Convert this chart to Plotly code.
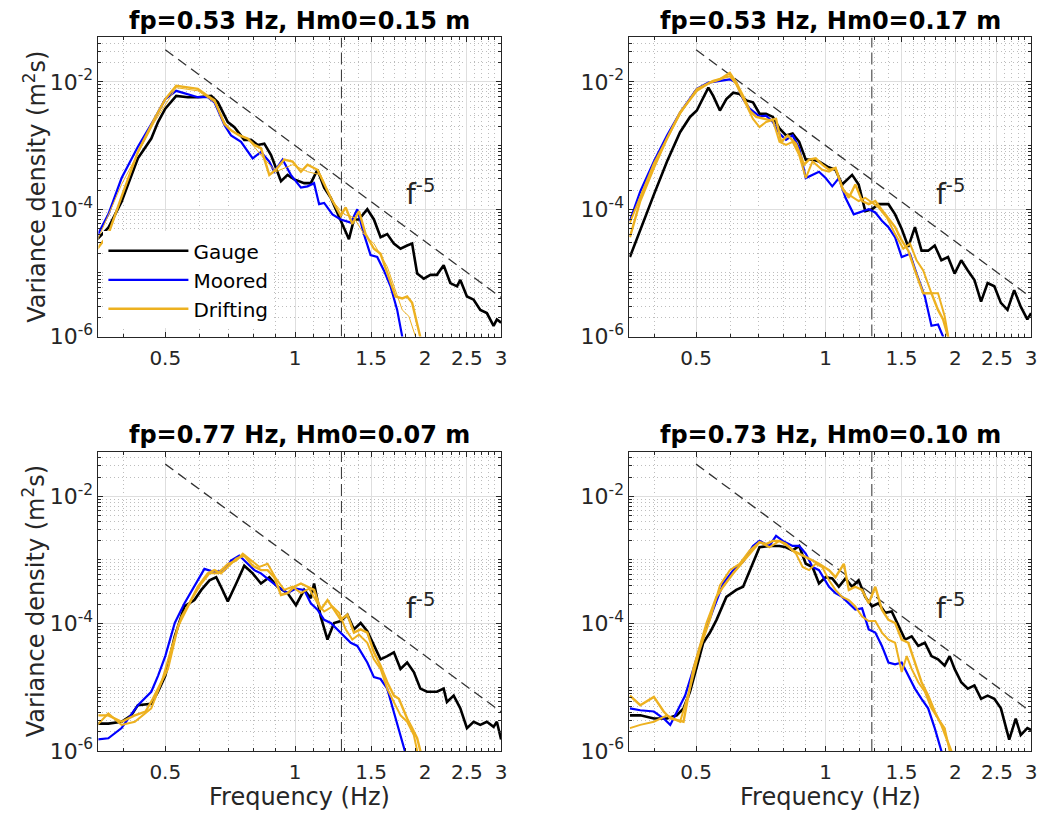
import numpy as np
import plotly.graph_objects as go

# ---------------- data (frequency in Hz, log10 of variance density in m^2 s) ----------------
titles = ["fp=0.53 Hz, Hm0=0.15 m", "fp=0.53 Hz, Hm0=0.17 m",
          "fp=0.77 Hz, Hm0=0.07 m", "fp=0.73 Hz, Hm0=0.10 m"]

# Panel 1
p1_gauge_f = [0.348,0.369,0.396,0.432,0.464,0.481,0.5,0.530,0.564,0.595,0.639,0.662,0.698,0.723,0.762,0.790,0.819,0.848,0.879,0.927,0.960,0.995,1.049,1.087,1.126,1.167,1.209,1.252,1.298,1.332,1.368,1.405,1.469,1.522,1.577,1.634,1.693,1.754,1.817,1.866,1.917,1.986,2.058,2.13,2.208,2.288,2.371,2.413,2.5,2.591,2.685,2.78,2.882,2.933,3.0]
p1_gauge_logS = [-4.47,-4.29,-3.88,-3.20,-2.89,-2.63,-2.42,-2.22,-2.24,-2.24,-2.22,-2.32,-2.63,-2.71,-2.91,-2.91,-2.99,-2.97,-3.15,-3.56,-3.46,-3.53,-3.59,-3.59,-3.38,-3.66,-3.82,-4.05,-4.28,-4.47,-4.16,-4.16,-4.00,-4.16,-4.44,-4.39,-4.54,-4.62,-4.57,-4.54,-5.01,-5.09,-5.03,-5.03,-4.88,-5.16,-5.21,-5.11,-5.37,-5.42,-5.58,-5.63,-5.83,-5.73,-5.78]
p1_moored_f = [0.348,0.369,0.396,0.432,0.472,0.5,0.530,0.564,0.595,0.627,0.650,0.686,0.710,0.749,0.797,0.833,0.871,0.894,0.935,0.977,1.031,1.068,1.106,1.136,1.167,1.220,1.275,1.345,1.393,1.443,1.495,1.549,1.605,1.663,1.723,1.770,1.80]
p1_moored_logS = [-4.41,-4.08,-3.51,-3.02,-2.58,-2.27,-2.14,-2.19,-2.24,-2.24,-2.32,-2.68,-2.84,-2.94,-3.20,-3.10,-3.25,-3.41,-3.22,-3.46,-3.66,-3.64,-3.59,-3.92,-3.90,-4.08,-4.16,-4.21,-4.00,-4.39,-4.72,-4.75,-4.96,-5.21,-5.58,-6.0,-6.3]
p1_drift1_f = [0.348,0.369,0.396,0.432,0.472,0.5,0.530,0.564,0.595,0.627,0.650,0.686,0.710,0.742,0.776,0.804,0.833,0.871,0.902,0.943,0.986,1.031,1.068,1.126,1.167,1.209,1.275,1.309,1.356,1.405,1.456,1.522,1.577,1.634,1.708,1.770,1.817,1.866,1.95,1.98]
p1_drift1_logS = [-4.62,-4.39,-3.80,-3.10,-2.58,-2.27,-2.06,-2.09,-2.11,-2.22,-2.29,-2.66,-2.76,-2.84,-2.89,-2.99,-3.04,-3.46,-3.38,-3.22,-3.25,-3.41,-3.30,-3.38,-3.61,-3.82,-4.10,-3.97,-4.23,-4.03,-4.39,-4.62,-4.70,-5.01,-5.37,-5.40,-5.37,-5.47,-6.0,-6.2]
p1_drift2_f = [0.348,0.396,0.472,0.530,0.595,0.650,0.698,0.776,0.833,0.902,0.986,1.068,1.146,1.220,1.298,1.368,1.443,1.522,1.634,1.708,1.770,1.834,1.90,1.93]
p1_drift2_logS = [-4.49,-3.61,-2.63,-2.09,-2.14,-2.32,-2.73,-2.89,-3.15,-3.41,-3.30,-3.41,-3.46,-3.87,-4.08,-4.13,-4.39,-4.54,-4.90,-5.27,-5.58,-5.68,-6.0,-6.2]

# Panel 2
p2_gauge_f = [0.351,0.371,0.399,0.428,0.459,0.484,0.502,0.534,0.548,0.568,0.588,0.610,0.631,0.654,0.678,0.702,0.727,0.754,0.781,0.809,0.838,0.868,0.899,0.932,0.965,1.009,1.054,1.092,1.152,1.193,1.236,1.281,1.327,1.399,1.450,1.502,1.556,1.612,1.670,1.730,1.792,1.857,1.924,1.993,2.065,2.139,2.216,2.296,2.378,2.465,2.553,2.645,2.741,2.839,2.941,3.0]
p2_gauge_logS = [-4.75,-4.34,-3.77,-3.25,-2.79,-2.55,-2.45,-2.09,-2.22,-2.45,-2.27,-2.17,-2.19,-2.29,-2.32,-2.50,-2.50,-2.55,-2.73,-2.84,-2.81,-2.94,-3.22,-3.22,-3.25,-3.33,-3.38,-3.61,-3.46,-3.61,-4.03,-4.00,-3.92,-3.92,-4.08,-4.31,-4.59,-4.28,-4.65,-4.65,-4.57,-4.80,-4.75,-5.01,-4.80,-4.96,-5.11,-5.45,-5.16,-5.21,-5.47,-5.58,-5.27,-5.53,-5.73,-5.63]
p2_moored_f = [0.351,0.371,0.399,0.428,0.459,0.502,0.534,0.568,0.599,0.620,0.643,0.666,0.702,0.727,0.754,0.781,0.809,0.838,0.868,0.899,0.932,0.965,1.0,1.036,1.073,1.112,1.162,1.215,1.259,1.304,1.351,1.399,1.450,1.502,1.570,1.626,1.700,1.761,1.824,1.874,1.90]
p2_moored_logS = [-4.18,-3.72,-3.25,-2.84,-2.48,-2.11,-2.01,-1.98,-1.96,-2.01,-2.27,-2.42,-2.54,-2.53,-2.63,-2.81,-2.91,-2.84,-3.04,-3.51,-3.46,-3.41,-3.51,-3.64,-3.51,-3.82,-4.08,-4.03,-4.00,-4.05,-4.18,-4.28,-4.44,-4.75,-4.70,-5.01,-5.37,-5.83,-5.81,-6.0,-6.2]
p2_drift1_f = [0.351,0.371,0.399,0.428,0.459,0.502,0.5385,0.568,0.599,0.620,0.643,0.666,0.690,0.7147,0.740,0.767,0.788,0.816,0.853,0.891,0.915,0.948,0.982,1.018,1.054,1.092,1.132,1.172,1.215,1.259,1.304,1.375,1.450,1.502,1.556,1.612,1.685,1.761,1.824,1.874,1.924,1.95]
p2_drift1_logS = [-4.44,-3.87,-3.35,-2.89,-2.48,-2.14,-2.01,-1.96,-1.86,-2.01,-2.22,-2.45,-2.55,-2.58,-2.60,-2.58,-2.94,-2.84,-2.97,-3.30,-3.22,-3.20,-3.30,-3.38,-3.35,-3.66,-3.82,-3.61,-3.87,-3.92,-3.87,-4.08,-4.28,-4.49,-4.65,-4.96,-5.32,-5.32,-5.58,-5.73,-6.0,-6.2]
p2_drift2_f = [0.351,0.399,0.459,0.502,0.548,0.599,0.620,0.654,0.678,0.702,0.727,0.754,0.781,0.809,0.838,0.868,0.899,0.932,0.982,1.018,1.054,1.102,1.152,1.193,1.236,1.281,1.327,1.387,1.450,1.515,1.570,1.626,1.685,1.761,1.824,1.890,1.924,1.95]
p2_drift2_logS = [-4.21,-3.28,-2.50,-2.11,-1.98,-1.91,-2.04,-2.37,-2.58,-2.71,-2.63,-2.60,-2.94,-2.99,-2.94,-3.15,-3.51,-3.25,-3.38,-3.41,-3.35,-3.72,-3.80,-3.87,-3.82,-3.90,-3.97,-4.13,-4.39,-4.62,-4.54,-4.80,-4.96,-5.32,-5.32,-5.68,-6.0,-6.2]

# Panel 3
p3_gauge_f = [0.348,0.369,0.396,0.417,0.432,0.464,0.481,0.5,0.526,0.554,0.584,0.606,0.633,0.656,0.673,0.698,0.730,0.762,0.797,0.833,0.871,0.910,0.960,1.004,1.049,1.087,1.106,1.146,1.188,1.230,1.275,1.321,1.368,1.418,1.469,1.522,1.577,1.634,1.693,1.754,1.817,1.883,1.95,2.021,2.13,2.208,2.247,2.329,2.413,2.5,2.591,2.685,2.78,2.882,2.933,3.0]
p3_gauge_logS = [-5.57,-5.57,-5.54,-5.44,-5.28,-5.26,-5.07,-4.82,-4.20,-3.73,-3.63,-3.47,-3.32,-3.27,-3.42,-3.65,-3.37,-3.09,-3.21,-3.37,-3.27,-3.42,-3.52,-3.71,-3.47,-3.60,-3.37,-3.89,-4.25,-3.99,-3.96,-3.86,-4.09,-3.99,-4.12,-4.35,-4.56,-4.51,-4.45,-4.71,-4.61,-4.76,-5.02,-5.07,-5.07,-5.02,-5.23,-5.13,-5.33,-5.64,-5.54,-5.59,-5.54,-5.62,-5.54,-5.82]
p3_moored_f = [0.348,0.369,0.396,0.432,0.464,0.481,0.5,0.526,0.554,0.584,0.616,0.650,0.686,0.710,0.742,0.776,0.804,0.833,0.871,0.910,0.960,1.004,1.049,1.087,1.126,1.167,1.209,1.275,1.345,1.393,1.469,1.522,1.577,1.634,1.693,1.754,1.801,1.83]
p3_moored_logS = [-5.82,-5.80,-5.64,-5.28,-5.07,-4.82,-4.51,-3.99,-3.68,-3.42,-3.14,-3.19,-3.16,-3.01,-2.93,-3.06,-3.16,-3.21,-3.32,-3.42,-3.52,-3.45,-3.47,-3.68,-3.78,-3.94,-3.99,-4.14,-4.30,-4.35,-4.61,-4.84,-4.87,-5.02,-5.38,-5.75,-6.0,-6.2]
p3_drift1_f = [0.348,0.369,0.396,0.425,0.450,0.468,0.485,0.507,0.535,0.564,0.595,0.627,0.650,0.673,0.698,0.730,0.762,0.797,0.833,0.863,0.894,0.927,0.960,0.995,1.031,1.068,1.106,1.146,1.188,1.230,1.275,1.321,1.368,1.418,1.469,1.522,1.577,1.634,1.693,1.739,1.817,1.866,1.917,1.95,1.97]
p3_drift1_logS = [-5.44,-5.44,-5.54,-5.44,-5.38,-5.18,-4.97,-4.71,-4.04,-3.73,-3.42,-3.21,-3.16,-3.21,-3.11,-2.98,-2.93,-3.09,-3.16,-3.16,-3.27,-3.55,-3.52,-3.42,-3.37,-3.42,-3.47,-3.78,-3.63,-3.78,-3.94,-3.86,-4.14,-4.09,-4.14,-4.45,-4.66,-4.92,-5.13,-5.18,-5.49,-5.64,-5.80,-6.0,-6.2]
p3_drift2_f = [0.348,0.369,0.396,0.425,0.464,0.490,0.516,0.545,0.574,0.606,0.633,0.662,0.698,0.730,0.756,0.790,0.826,0.863,0.902,0.943,0.986,1.031,1.077,1.126,1.167,1.220,1.264,1.309,1.356,1.405,1.469,1.522,1.577,1.634,1.693,1.754,1.817,1.883,1.917,1.94]
p3_drift2_logS = [-5.59,-5.41,-5.59,-5.54,-5.33,-4.92,-4.40,-3.89,-3.63,-3.37,-3.21,-3.21,-3.06,-3.01,-2.90,-3.01,-3.11,-3.06,-3.29,-3.47,-3.42,-3.52,-3.45,-3.68,-3.81,-3.73,-3.83,-4.09,-4.25,-4.17,-4.30,-4.56,-4.71,-5.02,-5.23,-5.44,-5.54,-5.75,-6.0,-6.2]

# Panel 4
p4_gauge_f = [0.351,0.371,0.399,0.428,0.451,0.4675,0.484,0.502,0.5197,0.5385,0.5578,0.588,0.620,0.643,0.666,0.702,0.740,0.781,0.809,0.838,0.868,0.899,0.932,0.965,1.0,1.036,1.073,1.112,1.152,1.193,1.236,1.281,1.327,1.375,1.424,1.476,1.529,1.584,1.641,1.700,1.761,1.824,1.890,1.941,1.993,2.065,2.139,2.216,2.296,2.378,2.465,2.553,2.669,2.764,2.839,2.941,3.0]
p4_gauge_logS = [-5.44,-5.44,-5.49,-5.49,-5.44,-5.33,-5.07,-4.66,-4.30,-4.14,-3.94,-3.58,-3.47,-3.42,-3.16,-2.80,-2.78,-2.78,-2.80,-2.85,-2.78,-3.06,-3.11,-3.37,-3.27,-3.29,-3.42,-3.29,-3.42,-3.32,-3.58,-3.73,-3.68,-3.83,-3.81,-4.04,-4.25,-4.20,-4.35,-4.30,-4.51,-4.56,-4.66,-4.51,-4.71,-4.92,-5.02,-4.97,-5.18,-5.13,-5.18,-5.33,-5.82,-5.49,-5.75,-5.64,-5.67]
p4_moored_f = [0.351,0.371,0.399,0.4205,0.4355,0.451,0.4716,0.493,0.5197,0.548,0.578,0.610,0.643,0.678,0.702,0.740,0.767,0.795,0.838,0.868,0.899,0.932,0.965,1.018,1.054,1.092,1.132,1.172,1.215,1.259,1.304,1.351,1.399,1.450,1.502,1.556,1.612,1.670,1.730,1.792,1.857,1.88]
p4_moored_logS = [-5.33,-5.36,-5.38,-5.49,-5.59,-5.38,-5.13,-4.71,-4.20,-3.78,-3.37,-3.16,-3.03,-2.78,-2.70,-2.78,-2.62,-2.70,-2.78,-2.78,-2.90,-3.11,-3.16,-3.42,-3.52,-3.58,-3.68,-3.78,-3.76,-4.09,-4.14,-4.35,-4.61,-4.64,-4.61,-4.82,-5.02,-5.18,-5.33,-5.64,-6.0,-6.2]
p4_drift1_f = [0.351,0.371,0.399,0.4205,0.4355,0.4675,0.493,0.529,0.5578,0.578,0.610,0.643,0.678,0.702,0.727,0.754,0.781,0.809,0.838,0.868,0.899,0.932,0.965,1.018,1.054,1.102,1.132,1.172,1.215,1.259,1.304,1.351,1.399,1.450,1.502,1.556,1.612,1.670,1.730,1.792,1.857,1.924,1.958,1.98]
p4_drift1_logS = [-5.13,-5.28,-5.15,-5.38,-5.49,-5.54,-4.71,-3.99,-3.58,-3.42,-3.21,-3.03,-2.85,-2.72,-2.75,-2.70,-2.70,-2.75,-2.85,-2.90,-2.96,-3.01,-3.06,-3.16,-3.27,-3.06,-3.47,-3.42,-3.47,-3.68,-3.42,-3.78,-3.94,-3.99,-4.25,-4.30,-4.61,-4.92,-5.13,-5.38,-5.59,-5.85,-6.0,-6.2]
p4_drift2_f = [0.351,0.371,0.399,0.428,0.459,0.484,0.5106,0.5385,0.568,0.599,0.631,0.666,0.702,0.740,0.781,0.823,0.853,0.884,0.915,0.948,0.982,1.018,1.054,1.092,1.132,1.172,1.215,1.259,1.304,1.351,1.399,1.450,1.502,1.543,1.584,1.641,1.700,1.761,1.824,1.890,1.941,1.96]
p4_drift2_logS = [-5.64,-5.59,-5.54,-5.44,-5.54,-5.02,-4.40,-3.94,-3.40,-3.16,-3.06,-2.85,-2.72,-2.80,-2.70,-2.80,-2.90,-3.11,-3.16,-3.06,-3.11,-3.32,-3.47,-3.58,-3.63,-3.73,-3.89,-3.96,-3.96,-4.14,-4.25,-4.30,-4.76,-4.51,-4.71,-4.92,-5.07,-5.33,-5.49,-5.64,-6.0,-6.2]

# reference slope line and cutoff
ref_f = [0.5, 3.0]
ref_coef = 1e-3
ref_power = -5
cutoff_f = 1.28
label_f, label_logS = 1.95, -3.73

# axis ranges and ticks
x_lim = [0.35, 3.0]
y_lim = [1e-6, 0.05]
x_ticks = [0.5, 1, 1.5, 2, 2.5, 3]
x_ticklabels = ["0.5", "1", "1.5", "2", "2.5", "3"]
x_minor = [0.4, 0.6, 0.7, 0.8, 0.9, 1.1, 1.2, 1.3, 1.4, 1.6, 1.7, 1.8, 1.9,
           2.1, 2.2, 2.3, 2.4, 2.6, 2.7, 2.8, 2.9]
y_ticks = [1e-6, 1e-4, 1e-2]
y_ticklabels = ["10<sup>-6</sup>", "10<sup>-4</sup>", "10<sup>-2</sup>"]
y_minor = [m * 10.0 ** e for e in range(-6, -1) for m in range(1, 10)
           if not (m == 1 and e % 2 == 0)] + [0.02, 0.03, 0.04, 0.05]

panels = [
    (p1_gauge_f, p1_gauge_logS, p1_moored_f, p1_moored_logS, p1_drift1_f, p1_drift1_logS, p1_drift2_f, p1_drift2_logS, 1.0),
    (p2_gauge_f, p2_gauge_logS, p2_moored_f, p2_moored_logS, p2_drift1_f, p2_drift1_logS, p2_drift2_f, p2_drift2_logS, 2.0),
    (p3_gauge_f, p3_gauge_logS, p3_moored_f, p3_moored_logS, p3_drift1_f, p3_drift1_logS, p3_drift2_f, p3_drift2_logS, 2.0),
    (p4_gauge_f, p4_gauge_logS, p4_moored_f, p4_moored_logS, p4_drift1_f, p4_drift1_logS, p4_drift2_f, p4_drift2_logS, 2.0),
]

BLACK = "#000000"
BLUE = "#0000FF"
ORANGE = "#EDB120"
AXC = "#262626"

W, H = 1048, 827
# plot-area pixel boxes (left, right, top, bottom)
boxes = [(99, 504, 38, 342), (633, 1037, 38, 342), (99, 504, 459, 763), (633, 1037, 459, 763)]

fig = go.Figure()
layout = dict(width=W, height=H, margin=dict(l=0, r=0, t=0, b=0), autosize=False,
              paper_bgcolor="white", plot_bgcolor="white",
              font=dict(family="DejaVu Sans", color=AXC))
annotations = []

for i, (gf, gs, mf, ms, d1f, d1s, d2f, d2s, d2w) in enumerate(panels):
    k = i + 1
    xa, ya = f"x{k}" if k > 1 else "x", f"y{k}" if k > 1 else "y"
    first = (i == 0)
    rf = np.array(ref_f)
    fig.add_trace(go.Scatter(x=rf, y=ref_coef * rf ** ref_power, mode="lines", xaxis=xa, yaxis=ya,
                             line=dict(color="#333333", width=1.3, dash="10px,6px"), showlegend=False, hoverinfo="skip"))
    fig.add_trace(go.Scatter(x=[cutoff_f, cutoff_f], y=y_lim, mode="lines", xaxis=xa, yaxis=ya,
                             line=dict(color="#404040", width=1.1, dash="12px,5px"), showlegend=False, hoverinfo="skip"))
    fig.add_trace(go.Scatter(x=gf, y=10 ** np.array(gs), mode="lines", xaxis=xa, yaxis=ya, name="Gauge",
                             line=dict(color=BLACK, width=2.6), showlegend=first, legendrank=1))
    fig.add_trace(go.Scatter(x=mf, y=10 ** np.array(ms), mode="lines", xaxis=xa, yaxis=ya, name="Moored",
                             line=dict(color=BLUE, width=2.2), showlegend=first, legendrank=2))
    fig.add_trace(go.Scatter(x=d1f, y=10 ** np.array(d1s), mode="lines", xaxis=xa, yaxis=ya, name="Drifting",
                             line=dict(color=ORANGE, width=2.4), showlegend=first, legendrank=3))
    fig.add_trace(go.Scatter(x=d2f, y=10 ** np.array(d2s), mode="lines", xaxis=xa, yaxis=ya, name="Drifting",
                             line=dict(color=ORANGE, width=d2w), showlegend=False))

    l, r, t, b = boxes[i]
    xd = [l / W, r / W]
    yd = [1 - b / H, 1 - t / H]
    axx = dict(type="log", domain=xd, anchor=ya, range=[np.log10(x_lim[0]), np.log10(x_lim[1])],
               tickmode="array", tickvals=x_ticks, ticktext=x_ticklabels,
               showgrid=True, gridcolor="#dedede", gridwidth=1, zeroline=False,
               showline=True, linecolor=AXC, linewidth=1, mirror="allticks",
               ticks="inside", ticklen=5, tickcolor=AXC, tickwidth=1, ticklabelstandoff=3,
               tickfont=dict(size=20, color=AXC),
               minor=dict(tickmode="array", tickvals=x_minor, ticks="inside", ticklen=3, tickcolor=AXC,
                          showgrid=True, gridcolor="#bdbdbd", griddash="1px,3px", gridwidth=1))
    axy = dict(type="log", domain=yd, anchor=xa, range=[np.log10(y_lim[0]), np.log10(y_lim[1])],
               tickmode="array", tickvals=y_ticks, ticktext=y_ticklabels,
               showgrid=True, gridcolor="#dedede", gridwidth=1, zeroline=False,
               showline=True, linecolor=AXC, linewidth=1, mirror="allticks",
               ticks="inside", ticklen=5, tickcolor=AXC, tickwidth=1,
               tickfont=dict(size=22, color=AXC),
               minor=dict(tickmode="array", tickvals=y_minor, ticks="inside", ticklen=3, tickcolor=AXC,
                          showgrid=True, gridcolor="#bdbdbd", griddash="1px,3px", gridwidth=1))
    layout["xaxis" + ("" if k == 1 else str(k))] = axx
    layout["yaxis" + ("" if k == 1 else str(k))] = axy

    annotations.append(dict(text=f"<b>{titles[i]}</b>", xref="paper", yref="paper",
                            x=(l + r) / 2 / W, y=1 - (t - 17) / H, xanchor="center", yanchor="middle",
                            showarrow=False, font=dict(size=24, color="#000000")))
    annotations.append(dict(text="f<sup>-5</sup>", xref=xa, yref=ya, x=np.log10(label_f), y=label_logS,
                            xanchor="center", yanchor="middle", showarrow=False,
                            font=dict(size=28, color=AXC)))
    if i in (0, 2):
        annotations.append(dict(text="Variance density (m<sup>2</sup>s)", xref="paper", yref="paper",
                                x=35 / W, y=1 - (t + b) / 2 / H, textangle=-90, xanchor="center", yanchor="middle",
                                showarrow=False, font=dict(size=24, color=AXC)))
    if i in (2, 3):
        annotations.append(dict(text="Frequency (Hz)", xref="paper", yref="paper",
                                x=(l + r) / 2 / W, y=1 - 826 / H, xanchor="center", yanchor="bottom",
                                showarrow=False, font=dict(size=24, color=AXC)))

layout["annotations"] = annotations
layout["legend"] = dict(x=104 / W, y=1 - 235 / H, xanchor="left", yanchor="top",
                        bgcolor="white", borderwidth=0, font=dict(size=20, color="#000000"),
                        itemwidth=80, tracegroupgap=0, traceorder="normal")
layout["showlegend"] = True
fig.update_layout(**layout)

fig.write_html("out.html")
